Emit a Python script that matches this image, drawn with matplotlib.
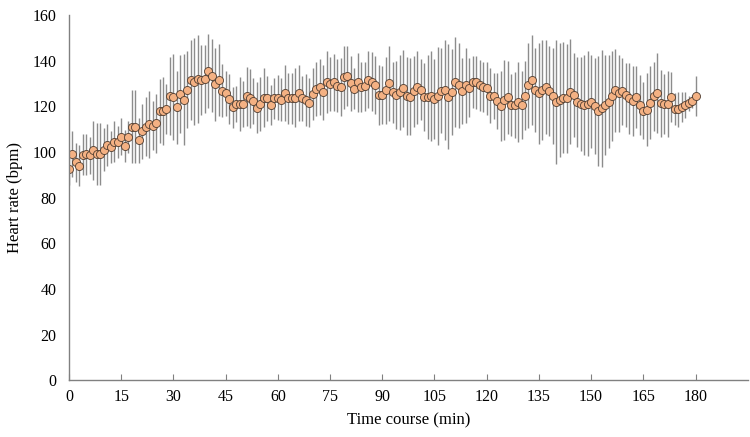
import numpy as np
import matplotlib
matplotlib.use("Agg")
import matplotlib.pyplot as plt

# heart rate mean per minute (0..180)
hr_mean = [92.5, 99, 95.5, 94, 98.7, 99, 98.5, 100.6, 99, 99, 101, 103, 102, 104.4, 104.4, 106.7,
           102.5, 106.7, 111, 111, 105, 109, 111, 112, 111.5, 112.5, 117.7, 118, 118.7, 124.6, 124,
           119.6, 125.3, 122.8, 127.3, 131.4, 130.7, 131.9, 131.4, 131.9, 135.4, 133.3, 129.7, 131.4,
           126.8, 125.6, 123, 119.6, 121, 121, 121, 124.3, 123.4, 122.2, 119.4, 121, 123.8, 123.4,
           120.6, 123.4, 123.8,
           122.8, 125.7, 123.4, 123.4, 123.8, 125.7, 123.4, 122.8, 121.6, 125.3, 127.6, 128.4, 126,
           130.7, 129.8, 130.5, 129, 128.4, 132.6, 133.3, 130.1, 127.6, 130.5, 128.4, 128.7, 131.6,
           130.8, 129.2, 124.9, 124.9,
           127, 130.1, 126, 124.9, 126, 127.8, 124.6, 124.1, 126.5, 128.2, 127.3, 124.1, 124.1, 124.6,
           123.1, 124.6, 126.8, 127, 124.1, 126.2, 130.5, 129.2, 126.6, 129.2, 128.1, 130.5, 130.5,
           129.1, 128.4, 127.8,
           124.6, 124.4, 122.2, 120.2, 122.7, 124, 120.5, 120.5, 121.8, 120.5, 124.6, 129.1, 131.6,
           127.2, 125.6, 127.2, 128.4, 126.5, 124.3, 121.8, 122.7, 123.8, 123.4, 126.3, 124.9, 121.9,
           121, 120.6, 121, 122, 120,
           118, 119, 120.5, 122, 124.6, 126.9, 125.6, 126.5, 124.9, 123.4, 122.3, 124.1, 120.6, 118.1,
           118.4, 121.6, 124.3, 125.7, 121.3, 121, 120.9, 124.1, 118.7, 118.7, 119.6, 120.5, 121.3,
           122.2, 124.3]

# standard deviation per minute
hr_sd = [7, 10, 8.5, 9, 9, 9, 8, 13, 13.5, 13.5, 9.5, 9, 7, 9, 7, 8, 7, 7, 16, 16, 10, 12, 13,
         14.6, 10.6, 13, 14, 15, 11, 17, 19,
         16, 17, 20, 17, 17.5, 19, 19.4, 15.4, 15, 16, 16, 16, 15.7, 11.7, 10, 11, 9, 8, 11.7, 10,
         13, 13, 10, 11, 11.7, 13, 10, 8.8, 9, 10,
         9.5, 12.4, 11.3, 11, 13, 12.4, 10, 11.3, 10.6, 11.3, 11.7, 12.4, 12, 13.5, 11.7, 12.4, 11.7,
         12.8, 13.9, 13, 12, 9, 13, 11, 10.6, 12.4, 13, 12.8, 13, 12.8,
         14.6, 16.4, 13.5, 15, 16.4, 17, 17, 16.8, 15.7, 16, 13.5, 15, 18.3, 19.7, 17.5, 21.5, 18.6,
         22, 23, 19, 19.7, 18.6, 14.6, 16.4, 12.8, 11.3, 11.7, 11, 11, 11.7,
         12, 10.2, 12.4, 15.4, 17.5, 16, 13.5, 14.6, 17.5, 15, 15, 18.6, 19.7, 18.3, 22, 22, 20.5,
         19.7, 21, 27, 25, 24.5, 24, 23, 18.6, 19.7, 20.5, 22, 23, 20.5, 21,
         24, 25.6, 22, 20.5, 19.7, 18.3, 17, 14.6, 14.2, 15.4, 15.4, 13.5, 13.2, 12.4, 16, 16, 15,
         17.5, 14.6, 13.2, 14.6, 11, 7, 7.7, 6.6, 5.5, 3.3, 2.9, 8.8]

minutes = np.arange(len(hr_mean))
x_ticks = list(range(0, 181, 15))
y_ticks = list(range(0, 161, 20))

plt.rcParams['font.family'] = ['Liberation Serif', 'DejaVu Serif']

fig = plt.figure(figsize=(7.5, 4.37), dpi=100)
ax = fig.add_axes([0.092, 0.13, 0.905, 0.836])

ax.errorbar(minutes, hr_mean, yerr=hr_sd, fmt='none', ecolor='#8c8c8c', elinewidth=1.0, capsize=0, zorder=1)
ax.plot(minutes, hr_mean, 'o', markersize=5.8, markerfacecolor='#f4b183',
        markeredgecolor='#4e3c30', markeredgewidth=0.6, linestyle='none', zorder=2)

ax.set_xlim(0, 195)
ax.set_ylim(0, 160)
ax.set_xticks(x_ticks)
ax.set_yticks(y_ticks)
ax.tick_params(axis='x', direction='in', length=4, color='#808080', labelsize=11.5, pad=6)
ax.tick_params(axis='y', length=0, labelsize=11.5, pad=9)

for s in ['top', 'right']:
    ax.spines[s].set_visible(False)
for s in ['left', 'bottom']:
    ax.spines[s].set_color('#808080')
    ax.spines[s].set_linewidth(1.0)

ax.set_xlabel('Time course (min)', fontsize=12, labelpad=6)
ax.set_ylabel('Heart rate (bpm)', fontsize=12, labelpad=7)

fig.savefig('out.png', dpi=100)
